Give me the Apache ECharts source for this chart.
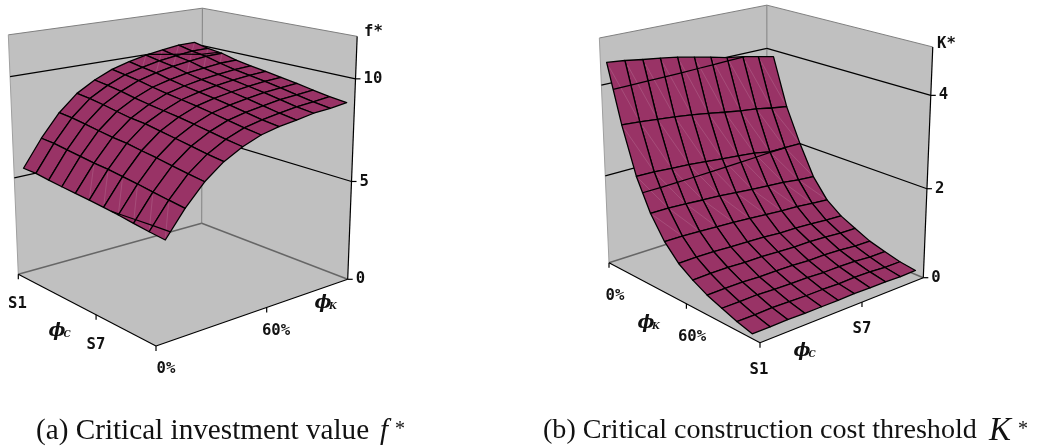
<!DOCTYPE html>
<html><head><meta charset="utf-8">
<script src="https://cdn.jsdelivr.net/npm/echarts@6/dist/echarts.min.js"></script>
<style>html,body{margin:0;padding:0;background:#fff}#c{width:1046px;height:446px}</style></head>
<body><div id="c"></div>
<script>
// ---- data ----
const phiCCats = ['S1','S2','S3','S4','S5','S6','S7','S8','S9','S10','S11'];
const phiKCats = ['0%','10%','20%','30%','40%','50%','60%','70%','80%','90%','100%'];
// f*: one row per phi_C category, one column per phi_K category
const fStar = [
 [5.38,6.70,7.81,8.62,9.14,9.53,9.78,9.98,10.11,10.23,10.24],
 [5.37,6.67,7.76,8.55,9.05,9.43,9.66,9.85,9.96,10.07,10.08],
 [5.29,6.58,7.66,8.44,8.94,9.32,9.55,9.73,9.85,9.96,9.98],
 [5.22,6.49,7.55,8.31,8.80,9.17,9.39,9.56,9.67,9.77,9.79],
 [5.16,6.41,7.45,8.19,8.68,9.05,9.26,9.42,9.53,9.62,9.66],
 [5.11,6.35,7.39,8.13,8.58,8.94,9.15,9.30,9.42,9.50,9.55],
 [5.04,6.26,7.27,8.00,8.48,8.83,9.04,9.18,9.30,9.38,9.43],
 [4.96,6.17,7.17,7.88,8.36,8.71,8.91,9.05,9.18,9.25,9.31],
 [4.86,6.06,7.05,7.75,8.23,8.57,8.77,8.90,9.03,9.10,9.17],
 [4.77,5.96,6.93,7.62,8.10,8.44,8.63,8.76,8.89,8.95,9.04],
 [4.70,5.87,6.83,7.52,7.99,8.33,8.53,8.65,8.79,8.85,8.95]
];
// K*: one row per phi_K category, one column per phi_C category
const kStar = [
 [4.53,4.49,4.43,4.38,4.32,4.24,4.16,4.07,4.01,3.93,3.85],
 [3.30,3.27,3.23,3.19,3.14,3.08,3.01,2.95,2.90,2.83,2.77],
 [2.30,2.29,2.26,2.24,2.20,2.16,2.12,2.08,2.01,2.005,2.00],
 [1.62,1.62,1.60,1.57,1.55,1.51,1.47,1.44,1.41,1.36,1.33],
 [1.14,1.14,1.12,1.10,1.08,1.05,1.02,0.99,0.97,0.93,0.90],
 [0.81,0.82,0.81,0.79,0.78,0.76,0.73,0.72,0.70,0.67,0.65],
 [0.60,0.61,0.61,0.59,0.59,0.57,0.55,0.55,0.53,0.50,0.49],
 [0.43,0.44,0.44,0.42,0.42,0.41,0.39,0.39,0.37,0.34,0.33],
 [0.31,0.31,0.32,0.30,0.29,0.29,0.27,0.27,0.26,0.23,0.23],
 [0.19,0.19,0.20,0.19,0.18,0.18,0.17,0.18,0.17,0.14,0.14],
 [0.10,0.10,0.11,0.10,0.10,0.10,0.11,0.10,0.10,0.08,0.09]
];
const fTicks = [0,5,10];
const kTicks = [0,2,4];
const fMax = 12, kMax = 5;

// ---- view: where the box corners fall, colours, fonts ----
const PLUM='#993366', WALL='#c0c0c0';
const TICKFONT='bold 15.6px "DejaVu Sans Mono"';
function solve(A,b){const n=A[0].length,M=[];for(let i=0;i<n;i++){M.push([]);for(let j=0;j<n;j++){let s=0;for(const r of A)s+=r[i]*r[j];M[i].push(s)}let t=0;A.forEach((r,q)=>t+=r[i]*b[q]);M[i].push(t)}
 for(let i=0;i<n;i++){let p=i;for(let r=i;r<n;r++)if(Math.abs(M[r][i])>Math.abs(M[p][i]))p=r;[M[i],M[p]]=[M[p],M[i]];for(let r=0;r<n;r++)if(r!=i){const f=M[r][i]/M[i][i];for(let c=i;c<=n;c++)M[r][c]-=f*M[i][c]}}
 return M.map((r,i)=>r[n]/r[i])}
function camera(L,F,R,B,Lt,Bt,Rt){
 const A=[],b=[];for(const [u,v,p] of [[0,0,L],[1,0,F],[1,1,R],[0,1,B]]){A.push([u,v,1,0,0,0,-u*p[0],-v*p[0]]);b.push(p[0]);A.push([0,0,0,u,v,1,-u*p[1],-v*p[1]]);b.push(p[1])}
 const h=solve(A,b);const A2=[],b2=[];
 for(const [u,v,p] of [[0,0,Lt],[0,1,Bt],[1,1,Rt]]){const x=h[0]*u+h[1]*v+h[2],y=h[3]*u+h[4]*v+h[5],w=h[6]*u+h[7]*v+1;A2.push([1,0,-p[0]]);b2.push(p[0]*w-x);A2.push([0,1,-p[1]]);b2.push(p[1]*w-y)}
 const q=solve(A2,b2);
 return (u,v,w)=>{const W=h[6]*u+h[7]*v+1+q[2]*w;return [(h[0]*u+h[1]*v+h[2]+q[0]*w)/W,(h[3]*u+h[4]*v+h[5]+q[1]*w)/W]}}
const catPos=i=>i/10, valPos=i=>(i+.5)/11;   // phi_C spans the floor edge, phi_K sits mid-category
const panels=[
 {name:'f*',grid:fStar,zMax:fMax,ticks:fTicks,levels:[5,10],
  cam:camera([18.3,274.3],[156,346],[347.7,279.3],[201.7,223.3],[8.3,34.3],[202.3,9],[357.3,36]),
  Tu:catPos,Tv:valPos,diag:'anti',seamMargin:.15},
 {name:'K*',grid:kStar,zMax:kMax,ticks:kTicks,levels:[2,4],
  cam:camera([609,262.7],[760,342.7],[923.3,277.7],[767,212],[599,36],[766.7,9.3],[933.3,44.3]),
  Tu:valPos,Tv:catPos,diag:'main',seamAbove:1.3}
];
const blk={stroke:'#000',lineWidth:1.2,fill:null};
function boxSeries(pi){const P=panels[pi];return {type:'custom',coordinateSystem:'cartesian2d',silent:true,animation:false,z:1,data:[[pi]],
 renderItem(par,api){const c=(u,v,w)=>api.coord(P.cam(u,v,w));
  const poly=pts=>({type:'polygon',shape:{points:pts},style:{fill:WALL,stroke:null}});
  const line=(a,b,st)=>({type:'line',shape:{x1:a[0],y1:a[1],x2:b[0],y2:b[1]},style:st});
  const kids=[poly([c(0,0,0),c(0,1,0),c(0,1,1),c(0,0,1)]),poly([c(0,1,0),c(1,1,0),c(1,1,1),c(0,1,1)]),poly([c(0,0,0),c(1,0,0),c(1,1,0),c(0,1,0)])];
  const gray={stroke:'#808080',lineWidth:1},dark={stroke:'#666',lineWidth:1.5};
  kids.push(line(c(0,0,1),c(0,1,1),gray),line(c(0,1,1),c(1,1,1),gray),line(c(0,1,0),c(0,1,1),gray),line(c(0,0,0),c(0,0,1),{stroke:'#a0a0a0',lineWidth:1}));
  kids.push(line(c(0,0,0),c(0,1,0),dark),line(c(0,1,0),c(1,1,0),dark));
  P.ticks.forEach(t=>{if(t>0){const w=t/P.zMax;kids.push(line(c(0,0,w),c(0,1,w),blk),line(c(0,1,w),c(1,1,w),blk))}});
  kids.push(line(c(1,1,0),c(1,1,1),blk),line(c(0,0,0),c(1,0,0),blk),line(c(1,0,0),c(1,1,0),blk));
  P.ticks.forEach(t=>{const a=c(1,1,t/P.zMax);kids.push(line(a,[a[0]+5,a[1]],blk))});
  const down=a=>line(a,[a[0],a[1]+5],blk);
  const uT=pi==0?catPos(6):6/11, vT=pi==0?6/11:catPos(6);
  kids.push(down(c(0,0,0)),down(c(uT,0,0)),down(c(1,0,0)),down(c(1,vT,0)));
  return {type:'group',children:kids}}}}
function surfaceSeries(pi){const P=panels[pi],G=P.grid,cells=[];
 for(let u=0;u<10;u++)for(let v=9;v>=0;v--)cells.push([u,v,G[u][v],G[u][v+1],G[u+1][v],G[u+1][v+1]]);
 return {type:'custom',coordinateSystem:'cartesian2d',silent:true,animation:false,z:2,data:cells,
 renderItem(par,api){const u=api.value(0),v=api.value(1),Z=[api.value(2),api.value(3),api.value(4),api.value(5)];
  const pt=(uu,vv,z)=>api.coord(P.cam(P.Tu(uu),P.Tv(vv),z/P.zMax));
  const C=[[u,v,Z[0]],[u,v+1,Z[1]],[u+1,v+1,Z[3]],[u+1,v,Z[2]]];
  const kids=[{type:'polygon',shape:{points:C.map(p=>pt(...p))},style:{fill:PLUM,stroke:'#000',lineWidth:1.3,lineJoin:'round'}}];
  const lo=Math.min(...Z),hi=Math.max(...Z);
  let seam=false;
  if(P.seamAbove!==undefined)seam=hi>P.seamAbove;
  else seam=P.levels.some(l=>lo-P.seamMargin<=l&&hi+P.seamMargin>=l);
  if(seam){const a=P.diag==='anti'?[C[1],C[3]]:[C[0],C[2]];const A=pt(...a[0]),B=pt(...a[1]);
   const shrink=(p,q)=>[p[0]+(q[0]-p[0])*.08,p[1]+(q[1]-p[1])*.08];
   const A2=shrink(A,B),B2=shrink(B,A);
   kids.push({type:'line',shape:{x1:A2[0],y1:A2[1],x2:B2[0],y2:B2[1]},style:{stroke:'rgba(255,255,255,.16)',lineWidth:.8}})}
  P.levels.forEach(l=>{const X=[];for(let i=0;i<4;i++){const p=C[i],q=C[(i+1)%4];if((p[2]-l)*(q[2]-l)<0){const t=(l-p[2])/(q[2]-p[2]);X.push(pt(p[0]+t*(q[0]-p[0]),p[1]+t*(q[1]-p[1]),l))}}
   for(let i=0;i+1<X.length;i+=2)kids.push({type:'line',shape:{x1:X[i][0],y1:X[i][1],x2:X[i+1][0],y2:X[i+1][1]},style:{stroke:'#000',lineWidth:1.2}})});
  return {type:'group',children:kids}}}}
// ---- text ----
function txt(x,y,text,font,align){return {type:'text',style:{x,y,text,font,fill:'#111',align:align||'center',verticalAlign:'middle'}}}
const PHI='bold italic 18px "DejaVu Serif"',SUB='italic bold 9px "DejaVu Serif"';
function phi(x,y,s){return [txt(x,y,'\u03D5',PHI),txt(x+10,y+4,s,SUB)]}
const textSeries={type:'custom',coordinateSystem:'cartesian2d',silent:true,animation:false,z:3,data:[[0]],
 renderItem(par,api){const k=[];const A=panels[0],B=panels[1];
  const tl=(P,t)=>{const a=P.cam(1,1,t/P.zMax);return [a[0]+8,a[1]]};
  fTicks.forEach(t=>{const a=tl(A,t);k.push(txt(a[0],a[1],String(t),TICKFONT,'left'))});
  kTicks.forEach(t=>{const a=tl(B,t);k.push(txt(a[0],a[1],String(t),TICKFONT,'left'))});
  k.push(txt(364,32,'f*',TICKFONT,'left'),txt(937,44,'K*',TICKFONT,'left'));
  k.push(txt(17.5,304,phiCCats[0],TICKFONT),txt(96,345,phiCCats[6],TICKFONT),txt(166,369,phiKCats[0],TICKFONT),txt(276,331,phiKCats[6],TICKFONT));
  k.push(txt(615,296,phiKCats[0],TICKFONT),txt(692,337,phiKCats[6],TICKFONT),txt(759,370,phiCCats[0],TICKFONT),txt(862,329,phiCCats[6],TICKFONT));
  k.push(...phi(57,331,'C'),...phi(323,303,'K'),...phi(646,323,'K'),...phi(802,351,'C'));
  k.push(txt(36,431,'(a) Critical investment value','29.2px "Liberation Serif"','left'),txt(380,431,'f','italic 29px "Liberation Serif"','left'),txt(395,430,'*','20px "Liberation Serif"','left'));
  k.push(txt(543,431,'(b) Critical construction cost threshold','28.1px "Liberation Serif"','left'),txt(989,431,'K','italic 33px "Liberation Serif"','left'),txt(1018,430,'*','20px "Liberation Serif"','left'));
  return {type:'group',children:k}}};
const chart=echarts.init(document.getElementById('c'),null,{renderer:'canvas'});
chart.setOption({animation:false,backgroundColor:'#fff',
 grid:{left:0,right:0,top:0,bottom:0},
 xAxis:{type:'value',min:0,max:1046,show:false},
 yAxis:{type:'value',min:0,max:446,inverse:true,show:false},
 series:[boxSeries(0),surfaceSeries(0),boxSeries(1),surfaceSeries(1),textSeries]});
</script></body></html>
